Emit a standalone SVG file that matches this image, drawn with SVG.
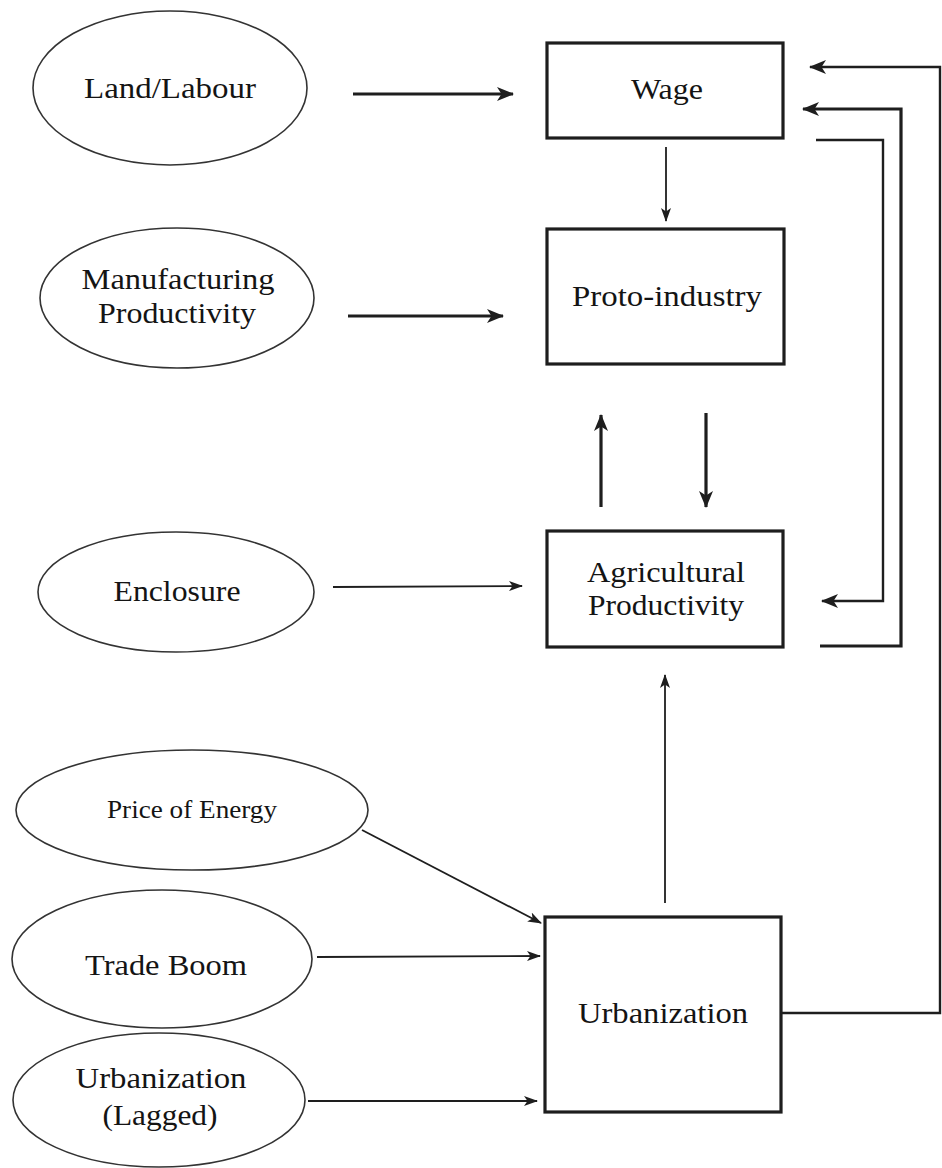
<svg xmlns="http://www.w3.org/2000/svg" width="942" height="1168" viewBox="0 0 942 1168">
<style>
.bg{fill:#ffffff}
.box{fill:#ffffff;stroke:#1e1e1e;stroke-width:3.2}
.ell{fill:#ffffff;stroke:#333;stroke-width:1.6}
.t{font-family:"Liberation Serif","Times New Roman",serif;font-size:30px;fill:#141414;text-anchor:middle}
.t.s{font-size:25px}
.c{fill:none;stroke:#1e1e1e;stroke-linejoin:miter}
.thick{stroke-width:3.2}
.med{stroke-width:2.4}
.thin{stroke-width:1.8}
</style>
<defs>
<marker id="ah" viewBox="0 0 17 14" markerUnits="userSpaceOnUse" markerWidth="17" markerHeight="14" refX="16" refY="7" orient="auto">
<path d="M0,0 L17,7 L0,14 L4.5,7 z" fill="#1e1e1e"/>
</marker>
<marker id="ahs" viewBox="0 0 14 10" markerUnits="userSpaceOnUse" markerWidth="14" markerHeight="10" refX="13" refY="5" orient="auto">
<path d="M0,0 L14,5 L0,10 L3.5,5 z" fill="#1e1e1e"/>
</marker>
</defs>
<rect class="bg" x="0" y="0" width="942" height="1168"/>

<g id="connectors">
<path class="c thick" d="M353,94 L513,94" marker-end="url(#ah)"/>
<path class="c thick" d="M348,316 L503,316" marker-end="url(#ah)"/>
<path class="c thin" d="M333,587 L522,586" marker-end="url(#ahs)"/>
<path class="c thin" d="M666,147 L666,221" marker-end="url(#ahs)"/>
<path class="c thick" d="M601,507 L601,415" marker-end="url(#ah)"/>
<path class="c thick" d="M706,413 L706,507" marker-end="url(#ah)"/>
<path class="c thin" d="M665,903 L665,675" marker-end="url(#ahs)"/>
<path class="c thin" d="M362,830 L541,923" marker-end="url(#ahs)"/>
<path class="c thin" d="M317,957 L540,956" marker-end="url(#ahs)"/>
<path class="c thin" d="M308,1101 L537,1101" marker-end="url(#ahs)"/>
<path class="c med" d="M781,1013 L940,1013 L940,67 L810,67" marker-end="url(#ah)"/>
<path class="c thick" d="M820,646 L901,646 L901,109 L803,109" marker-end="url(#ah)"/>
<path class="c med" d="M816,140 L883,140 L883,601 L822,601" marker-end="url(#ah)"/>
</g>

<g id="land-labour">
<ellipse class="ell" cx="170" cy="88" rx="137" ry="77"/>
<text class="t" x="170" y="98" textLength="172" lengthAdjust="spacingAndGlyphs">Land/Labour</text>
</g>
<g id="manufacturing-productivity">
<ellipse class="ell" cx="177" cy="298" rx="137" ry="70"/>
<text class="t" x="178" y="289" textLength="193" lengthAdjust="spacingAndGlyphs">Manufacturing</text>
<text class="t" x="177" y="323" textLength="158" lengthAdjust="spacingAndGlyphs">Productivity</text>
</g>
<g id="enclosure">
<ellipse class="ell" cx="176" cy="592" rx="138" ry="60"/>
<text class="t" x="177" y="601" textLength="127" lengthAdjust="spacingAndGlyphs">Enclosure</text>
</g>
<g id="price-of-energy">
<ellipse class="ell" cx="192" cy="810" rx="176" ry="60"/>
<text class="t s" x="192" y="818" textLength="170" lengthAdjust="spacingAndGlyphs">Price of Energy</text>
</g>
<g id="trade-boom">
<ellipse class="ell" cx="162" cy="959" rx="150" ry="69"/>
<text class="t" x="166" y="975" textLength="162" lengthAdjust="spacingAndGlyphs">Trade Boom</text>
</g>
<g id="urbanization-lagged">
<ellipse class="ell" cx="159" cy="1100" rx="146" ry="67"/>
<text class="t" x="161" y="1088" textLength="171" lengthAdjust="spacingAndGlyphs">Urbanization</text>
<text class="t" x="160" y="1125" textLength="115" lengthAdjust="spacingAndGlyphs">(Lagged)</text>
</g>

<g id="wage">
<rect class="box" x="547" y="43" width="236" height="95"/>
<text class="t" x="667" y="99" textLength="72" lengthAdjust="spacingAndGlyphs">Wage</text>
</g>
<g id="proto-industry">
<rect class="box" x="547" y="229" width="237" height="135"/>
<text class="t" x="667" y="306" textLength="190" lengthAdjust="spacingAndGlyphs">Proto-industry</text>
</g>
<g id="agricultural-productivity">
<rect class="box" x="547" y="531" width="236" height="116"/>
<text class="t" x="666" y="582" textLength="158" lengthAdjust="spacingAndGlyphs">Agricultural</text>
<text class="t" x="666" y="615" textLength="156" lengthAdjust="spacingAndGlyphs">Productivity</text>
</g>
<g id="urbanization">
<rect class="box" x="545" y="917" width="236" height="195"/>
<text class="t" x="663" y="1023" textLength="170" lengthAdjust="spacingAndGlyphs">Urbanization</text>
</g>
</svg>
